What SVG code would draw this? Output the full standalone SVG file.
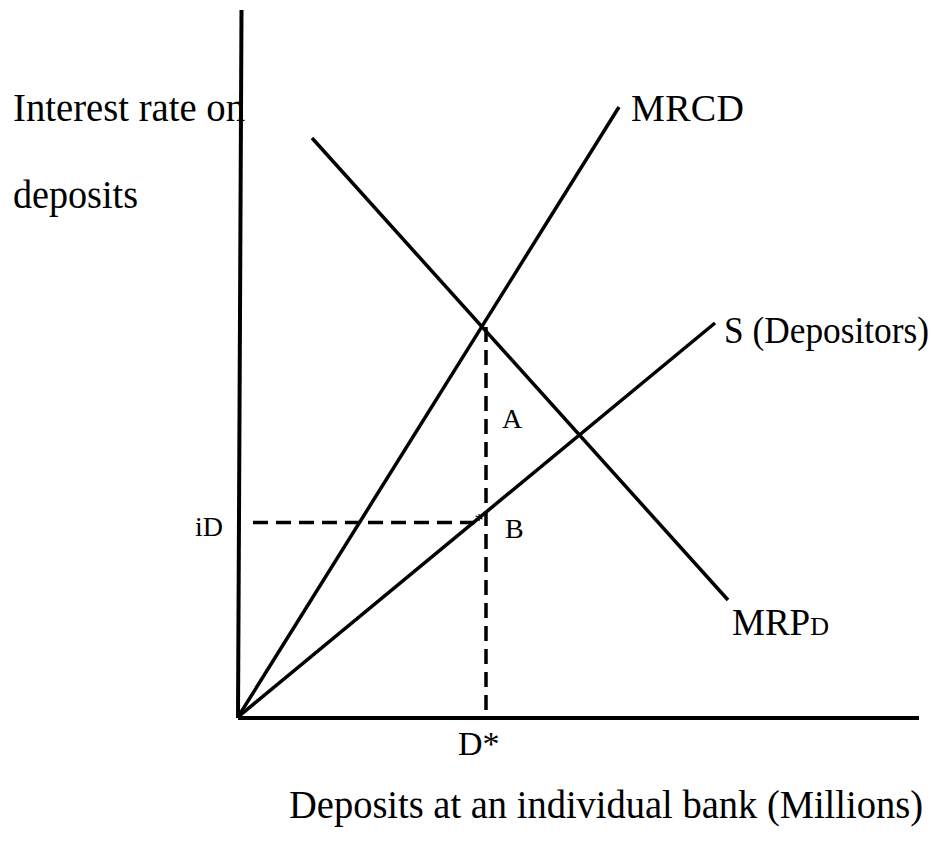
<svg xmlns="http://www.w3.org/2000/svg" width="937" height="845" viewBox="0 0 937 845">
<style>
text{font-family:"Liberation Serif","Times New Roman",serif;fill:#000}
.ax{stroke:#000;stroke-width:4;fill:none;stroke-linecap:butt}
.cv{stroke:#000;stroke-width:3.5;fill:none}
.ds{stroke:#000;stroke-width:3.5;fill:none;stroke-dasharray:15 8}
</style>
<rect width="937" height="845" fill="#fff"/>
<g id="axes">
<line class="ax" x1="241.5" y1="10" x2="238" y2="718"/>
<line class="ax" x1="238" y1="718" x2="919" y2="718"/>
</g>
<g id="connectors">
<line class="cv" x1="238" y1="717" x2="619" y2="107"/>
<line class="cv" x1="238" y1="717" x2="715" y2="323"/>
<line class="cv" x1="312" y1="138" x2="728" y2="600"/>
<line class="ds" x1="486" y1="327" x2="486" y2="717"/>
<line class="ds" x1="253" y1="522.5" x2="480" y2="522.5"/>
</g>
<g id="y-label">
<text x="13" y="121" font-size="40" textLength="232" lengthAdjust="spacingAndGlyphs">Interest rate on</text>
<text x="13" y="208" font-size="40" textLength="125" lengthAdjust="spacingAndGlyphs">deposits</text>
</g>
<g id="mrcd"><text x="631" y="121" font-size="38" textLength="113">MRCD</text></g>
<g id="supply"><text x="724" y="343" font-size="37" textLength="205" lengthAdjust="spacingAndGlyphs">S (Depositors)</text></g>
<g id="mrpd"><text x="732" y="635" font-size="37">MRP<tspan font-size="26">D</tspan></text></g>
<g id="label-a"><text x="502" y="428" font-size="28">A</text></g>
<g id="label-b"><text x="505" y="538" font-size="28">B</text></g>
<g id="label-id"><text x="195" y="536" font-size="28">iD</text></g>
<g id="star"><text x="474.5" y="527" font-size="18">*</text></g>
<g id="label-dstar"><text x="458" y="755" font-size="34">D*</text></g>
<g id="x-label"><text x="289" y="818" font-size="39" textLength="634" lengthAdjust="spacingAndGlyphs">Deposits at an individual bank (Millions)</text></g>
</svg>
